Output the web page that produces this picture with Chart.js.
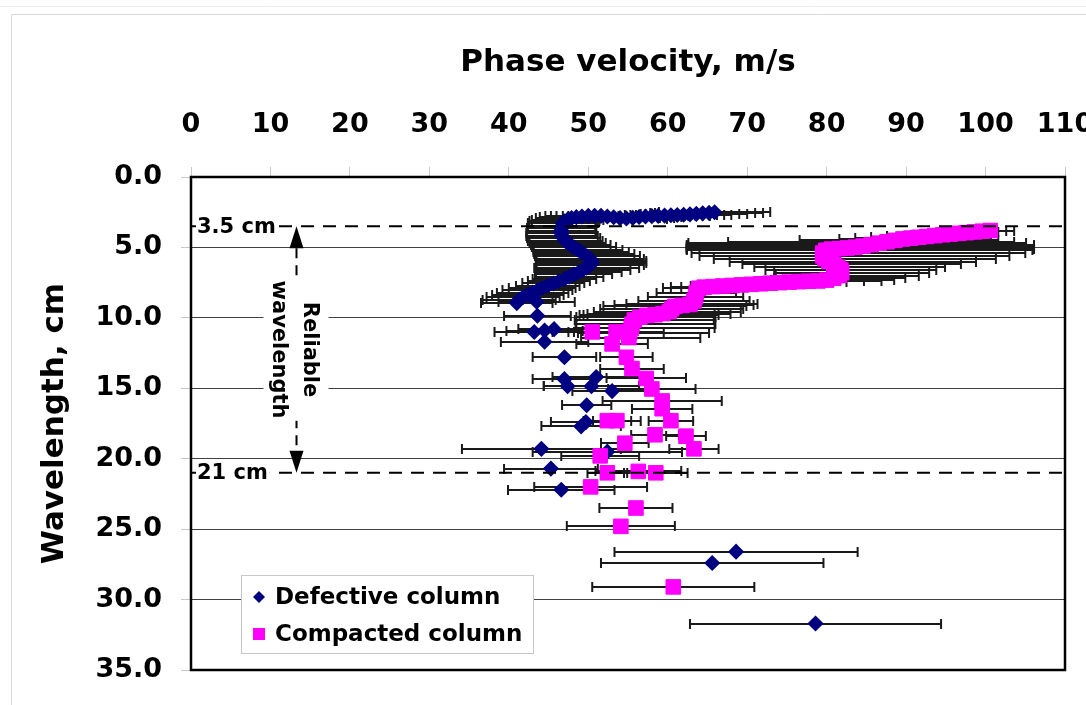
<!DOCTYPE html>
<html>
<head>
<meta charset="utf-8">
<title>Phase velocity vs wavelength</title>
<script src="https://cdn.jsdelivr.net/npm/chart.js@4.4.1/dist/chart.umd.min.js"></script>
<style>
  html, body { margin: 0; padding: 0; background: #fff; }
  #wrap { width: 1086px; height: 705px; }
</style>
</head>
<body>
<div id="wrap"><canvas id="c" width="1086" height="705"></canvas></div>
<script>
// ---- Defective column: wavelength (cm), phase velocity (m/s), error half-width (m/s)
const defectiveWavelength = [
  2.50, 2.55, 2.58, 2.62, 2.65, 2.68, 2.70, 2.72, 2.74, 2.76,
  2.78, 2.80, 2.84, 2.90, 2.95, 2.92, 2.86, 2.80, 2.76, 2.75,
  2.76, 2.80, 2.85, 2.92, 3.02, 3.15, 3.30, 3.48, 3.65, 3.82,
  4.00, 4.18, 4.35, 4.52, 4.68, 4.84, 5.00, 5.16, 5.32, 5.48,
  5.64, 5.80, 5.96, 6.12, 6.28, 6.44, 6.60, 6.76, 6.92, 7.08,
  7.24, 7.40, 7.56, 7.72, 7.88, 8.04, 8.20, 8.36, 8.52, 8.70,
  8.95, 8.85, 9.85, 10.8, 10.9, 11.0, 11.7, 12.8, 14.35, 14.85,
  14.2, 14.85, 15.2, 16.2, 17.4, 17.7, 19.3, 19.5, 20.7, 22.2,
  26.6, 27.4, 31.7
];
const defectiveVelocity = [
  65.9, 65.2, 64.4, 63.6, 62.8, 62.0, 61.2, 60.4, 59.6, 58.8,
  58.0, 57.2, 56.4, 55.6, 54.8, 54.0, 53.2, 52.4, 51.6, 50.8,
  50.0, 49.2, 48.5, 47.9, 47.4, 47.0, 46.8, 46.7, 46.6, 46.6,
  46.6, 46.7, 46.9, 47.1, 47.4, 47.8, 48.2, 48.7, 49.1, 49.5,
  49.9, 50.2, 50.4, 50.4, 50.2, 49.8, 49.3, 48.8, 48.2, 47.6,
  47.0, 46.3, 45.6, 44.9, 44.2, 43.6, 43.0, 42.4, 41.8, 41.3,
  41.0, 43.5, 43.6, 45.7, 44.5, 43.2, 44.5, 47.0, 47.0, 47.4,
  51.0, 50.4, 53.0, 49.8, 49.7, 49.1, 44.1, 52.4, 45.3, 46.6,
  68.6, 65.6, 78.6
];
const defectiveError = [
  7.0, 6.8, 6.6, 6.4, 6.2, 6.0, 5.9, 5.8, 5.7, 5.6,
  5.5, 5.4, 5.3, 5.2, 5.1, 5.0, 5.0, 4.9, 4.8, 4.8,
  4.7, 4.6, 4.6, 4.5, 4.5, 4.4, 4.4, 4.3, 4.3, 4.3,
  4.4, 4.5, 4.6, 4.7, 4.8, 5.0, 5.3, 5.6, 6.0, 6.3,
  6.6, 6.8, 6.9, 6.9, 6.8, 6.6, 6.0, 5.4, 4.8, 4.3,
  4.0, 3.9, 3.9, 4.0, 4.2, 4.4, 4.5, 4.5, 4.6, 4.6,
  4.5, 4.8, 4.2, 4.5, 4.8, 5.0, 5.5, 4.0, 4.0, 3.0,
  5.5, 6.0, 5.0, 3.1, 4.4, 5.0, 10.0, 9.4, 5.9, 6.7,
  15.3, 14.0, 15.8
];

// ---- Compacted column: wavelength (cm), phase velocity (m/s), lower / upper error (m/s)
const compactedWavelength = [
  3.80, 3.85, 3.90, 3.95, 4.00, 4.05, 4.10, 4.16, 4.22, 4.28,
  4.34, 4.40, 4.50, 4.60, 4.70, 4.80, 4.90, 4.98, 5.04, 5.08,
  5.12, 5.20, 5.40, 5.60, 5.80, 6.00, 6.20, 6.40, 6.60, 6.80,
  7.00, 7.18, 7.32, 7.38, 7.40, 7.43, 7.46, 7.50, 7.54, 7.58,
  7.62, 7.66, 7.70, 7.74, 7.78, 7.82, 7.90, 8.20, 8.50, 8.80,
  9.05, 9.12, 9.18, 9.35, 9.55, 9.70, 9.78, 9.82, 9.95, 10.15,
  10.45, 10.75, 11.05, 11.40,
  11.0, 11.0, 11.85, 12.8, 13.6, 14.3, 15.05, 15.9, 16.45, 17.3,
  17.3, 17.3, 18.3, 18.4, 18.9, 19.3, 19.8, 21.0, 20.9, 21.0,
  22.0, 23.5, 24.8, 29.1
];
const compactedVelocity = [
  100.6, 99.6, 98.6, 97.6, 96.6, 95.6, 94.6, 93.6, 92.6, 91.6,
  90.6, 89.6, 88.6, 87.6, 86.6, 85.6, 84.6, 83.6, 82.6, 81.6,
  80.6, 79.9, 79.5, 79.5, 79.8, 80.3, 80.9, 81.4, 81.8, 81.9,
  81.6, 80.9, 80.0, 78.9, 77.7, 76.5, 75.3, 74.1, 72.9, 71.7,
  70.5, 69.3, 68.1, 66.9, 65.7, 64.6, 63.9, 63.6, 63.5, 63.3,
  62.8, 61.8, 60.9, 60.5, 60.2, 59.4, 58.4, 57.4, 56.5, 55.8,
  55.5, 55.4, 55.2, 55.1,
  50.5, 53.5, 53.0, 54.8, 55.5, 57.3, 58.0, 59.3, 59.3, 52.4,
  53.6, 60.4, 58.4, 62.3, 54.6, 63.3, 51.5, 52.4, 56.3, 58.5,
  50.3, 56.0, 54.1, 60.7
];
const compactedErrLow = [
  3.0, 3.0, 3.0, 3.0, 3.0, 3.5, 4.0, 4.0, 5.0, 6.0,
  7.0, 8.0, 12.0, 20.0, 24.0, 23.2, 22.2, 21.2, 20.2, 19.2,
  18.2, 17.5, 16.5, 15.5, 14.0, 12.5, 11.5, 10.5, 9.5, 8.5,
  8.0, 7.5, 7.0, 6.5, 6.0, 5.5, 5.0, 4.8, 4.6, 4.4,
  4.2, 4.0, 4.0, 4.0, 4.0, 4.2, 4.5, 5.0, 6.0, 7.0,
  8.0, 8.5, 9.0, 9.0, 9.5, 9.5, 9.0, 8.5, 8.0, 7.5,
  7.0, 7.0, 6.5, 6.0,
  5.0, 6.0, 4.5, 3.3, 4.0, 5.0, 5.5, 7.5, 3.8, 3.0,
  3.0, 2.8, 3.0, 2.5, 3.0, 3.1, 4.9, 2.5, 5.4, 4.0,
  7.1, 4.6, 6.8, 10.2
];
const compactedErrHigh = [
  3.0, 3.0, 3.0, 3.5, 4.0, 5.0, 6.0, 7.0, 8.0, 9.0,
  10.0, 11.0, 13.0, 16.0, 18.5, 20.5, 21.5, 22.5, 23.5, 24.5,
  25.5, 26.0, 25.5, 23.5, 21.5, 18.5, 16.0, 13.5, 12.0, 11.0,
  10.0, 9.0, 8.5, 8.0, 7.0, 6.0, 5.0, 4.8, 4.6, 4.4,
  4.2, 4.0, 4.0, 4.0, 4.0, 4.2, 4.5, 5.0, 6.0, 7.0,
  8.5, 9.0, 9.0, 9.0, 9.0, 8.5, 8.0, 8.5, 9.5, 10.0,
  10.5, 10.5, 10.0, 9.0,
  5.0, 6.0, 4.5, 3.3, 4.0, 5.0, 5.5, 7.5, 3.8, 3.0,
  3.0, 2.8, 3.0, 2.5, 3.0, 3.1, 4.9, 2.5, 5.4, 4.0,
  7.1, 4.6, 6.8, 10.2
];

// ---- Axis ticks
const velocityTicks = [0, 10, 20, 30, 40, 50, 60, 70, 80, 90, 100, 110];
const velocityTickLabels = ['0', '10', '20', '30', '40', '50', '60', '70', '80', '90', '100', '110'];
const wavelengthTicks = [0, 5, 10, 15, 20, 25, 30, 35];
const wavelengthTickLabels = ['0.0', '5.0', '10.0', '15.0', '20.0', '25.0', '30.0', '35.0'];

// ---- Reliable wavelength range
const reliableLimits = [3.5, 21];
const reliableLimitLabels = ['3.5 cm', '21 cm'];
const reliableNote = ['Reliable', 'wavelength'];

const FONT = '"DejaVu Sans", "Liberation Sans", sans-serif';
Chart.defaults.font.family = FONT;

const defectivePoints = defectiveWavelength.map((w, i) => ({
  x: defectiveVelocity[i], y: w, lo: defectiveError[i], hi: defectiveError[i]
}));
const compactedPoints = compactedWavelength.map((w, i) => ({
  x: compactedVelocity[i], y: w, lo: compactedErrLow[i], hi: compactedErrHigh[i]
}));

// light frame round the figure
const pageFrame = {
  id: 'pageFrame',
  beforeDraw(chart) {
    const { ctx, width, height } = chart;
    ctx.save();
    ctx.fillStyle = '#fff';
    ctx.fillRect(0, 0, width, height);
    ctx.lineWidth = 1;
    ctx.strokeStyle = '#ececec';
    ctx.beginPath(); ctx.moveTo(0, 6.5); ctx.lineTo(width, 6.5); ctx.stroke();
    ctx.strokeStyle = '#dadada';
    ctx.beginPath(); ctx.moveTo(width, 14.5); ctx.lineTo(11.5, 14.5); ctx.lineTo(11.5, height); ctx.stroke();
    ctx.restore();
  }
};

// horizontal error bars with end caps, drawn under the markers
const errorBars = {
  id: 'errorBars',
  beforeDatasetsDraw(chart) {
    const { ctx, chartArea: a, scales: { x, y } } = chart;
    ctx.save();
    ctx.beginPath();
    ctx.rect(a.left, a.top, a.right - a.left, a.bottom - a.top);
    ctx.clip();
    ctx.strokeStyle = '#1a1a1a';
    ctx.lineWidth = 2;
    chart.data.datasets.forEach(ds => {
      ds.data.forEach(p => {
        const py = Math.round(y.getPixelForValue(p.y));
        const x0 = x.getPixelForValue(p.x - p.lo);
        const x1 = x.getPixelForValue(p.x + p.hi);
        ctx.beginPath();
        ctx.moveTo(x0, py); ctx.lineTo(x1, py);
        ctx.moveTo(x0, py - 5); ctx.lineTo(x0, py + 5);
        ctx.moveTo(x1, py - 5); ctx.lineTo(x1, py + 5);
        ctx.stroke();
      });
    });
    ctx.restore();
  }
};

// dashed limits, their labels and the double arrow with its caption
const bracketVelocity = 13.2;
const reliableBand = {
  id: 'reliableBand',
  afterDatasetsDraw(chart) {
    const { ctx, chartArea: a, scales: { x, y } } = chart;
    const [yTop, yBot] = reliableLimits.map(v => y.getPixelForValue(v));
    ctx.save();
    ctx.strokeStyle = '#000';
    ctx.lineWidth = 2;
    ctx.setLineDash([13, 9]);
    [yTop, yBot].forEach(py => {
      ctx.beginPath(); ctx.moveTo(a.left, py); ctx.lineTo(a.right, py); ctx.stroke();
    });
    ctx.setLineDash([]);

    ctx.font = 'bold 21px ' + FONT;
    ctx.textAlign = 'left';
    ctx.textBaseline = 'middle';
    [yTop, yBot].forEach((py, i) => {
      const t = reliableLimitLabels[i];
      const w = ctx.measureText(t).width;
      ctx.fillStyle = '#fff';
      ctx.fillRect(a.left + 5, py - 13, w + 3, 26);
      ctx.fillStyle = '#000';
      ctx.fillText(t, a.left + 6, py + 1);
    });

    const bx = Math.round(x.getPixelForValue(bracketVelocity)) + 0.5;
    ctx.setLineDash([10, 7]);
    ctx.beginPath(); ctx.moveTo(bx, yTop + 22); ctx.lineTo(bx, yBot - 22); ctx.stroke();
    ctx.setLineDash([]);

    ctx.fillStyle = '#fff';
    ctx.fillRect(bx - 33, yTop + 52, 65, (yBot - 52) - (yTop + 52));

    ctx.fillStyle = '#000';
    ctx.beginPath(); ctx.moveTo(bx, yTop); ctx.lineTo(bx + 7, yTop + 22); ctx.lineTo(bx - 7, yTop + 22); ctx.closePath(); ctx.fill();
    ctx.beginPath(); ctx.moveTo(bx, yBot); ctx.lineTo(bx + 7, yBot - 22); ctx.lineTo(bx - 7, yBot - 22); ctx.closePath(); ctx.fill();

    const cy = (yTop + yBot) / 2;
    ctx.textAlign = 'center';
    ctx.textBaseline = 'alphabetic';
    [[reliableNote[0], 7], [reliableNote[1], -24]].forEach(([t, dx]) => {
      ctx.save();
      ctx.translate(bx + dx, cy);
      ctx.rotate(Math.PI / 2);
      ctx.fillText(t, 0, 0);
      ctx.restore();
    });
    ctx.restore();
  }
};

// boxed legend inside the lower left corner of the plot
const legendBox = {
  id: 'legendBox',
  afterDraw(chart) {
    const { ctx, chartArea: a } = chart;
    const left = a.left + 50, top = a.bottom - 95;
    ctx.save();
    ctx.fillStyle = '#fff';
    ctx.fillRect(left, top, 292, 78);
    ctx.strokeStyle = '#c8c8c8';
    ctx.lineWidth = 1;
    ctx.strokeRect(left + 0.5, top + 0.5, 292, 78);
    const rows = [22, 59];
    chart.data.datasets.forEach((ds, i) => {
      const cy = top + rows[i], cx = left + 18;
      ctx.fillStyle = ds.backgroundColor;
      ctx.beginPath();
      if (ds.pointStyle === 'rectRot') {
        ctx.moveTo(cx, cy - 6); ctx.lineTo(cx + 6, cy); ctx.lineTo(cx, cy + 6); ctx.lineTo(cx - 6, cy);
        ctx.closePath();
      } else {
        ctx.rect(cx - 6, cy - 6, 12, 12);
      }
      ctx.fill();
      ctx.fillStyle = '#000';
      ctx.font = 'bold 23px ' + FONT;
      ctx.textAlign = 'left';
      ctx.textBaseline = 'middle';
      ctx.fillText(ds.label, left + 34, cy + 1);
    });
    ctx.restore();
  }
};

// heavy border round the plotting area
const plotFrame = {
  id: 'plotFrame',
  afterDraw(chart) {
    const { ctx, chartArea: a } = chart;
    ctx.save();
    ctx.strokeStyle = '#000';
    ctx.lineWidth = 2.5;
    ctx.strokeRect(a.left, a.top, a.right - a.left, a.bottom - a.top);
    ctx.restore();
  }
};

new Chart(document.getElementById('c'), {
  type: 'scatter',
  data: {
    datasets: [
      {
        label: 'Defective column',
        data: defectivePoints,
        pointStyle: 'rectRot',
        pointRadius: 7,
        backgroundColor: '#000080',
        borderColor: '#000080',
        borderWidth: 1.5,
        order: 1
      },
      {
        label: 'Compacted column',
        data: compactedPoints,
        pointStyle: 'rect',
        pointRadius: 10.3,
        backgroundColor: '#ff00ff',
        borderColor: '#ff00ff',
        borderWidth: 1,
        order: 0
      }
    ]
  },
  options: {
    responsive: false,
    animation: false,
    devicePixelRatio: 1,
    events: [],
    layout: { padding: { left: 0, top: 0, right: 21, bottom: 35 } },
    plugins: { legend: { display: false }, tooltip: { enabled: false } },
    scales: {
      x: {
        type: 'linear',
        position: 'top',
        min: 0,
        max: 110,
        afterBuildTicks: s => { s.ticks = velocityTicks.map(v => ({ value: v })); },
        afterFit: s => { s.height = 177; s.paddingLeft = 0; s.paddingRight = 0; },
        grid: { drawOnChartArea: false, drawTicks: true, tickLength: 10, tickColor: '#c8c8c8', lineWidth: 1 },
        border: { display: false },
        ticks: {
          color: '#000',
          font: { size: 27, weight: 'bold', lineHeight: 1.2 },
          padding: 26,
          maxRotation: 0,
          autoSkip: false,
          callback: (v, i) => velocityTickLabels[i]
        },
        title: {
          display: true,
          text: 'Phase velocity, m/s',
          color: '#000',
          font: { size: 31, weight: 'bold', lineHeight: 1.2 },
          padding: { top: 44, bottom: 0 }
        }
      },
      y: {
        type: 'linear',
        position: 'left',
        reverse: true,
        min: 0,
        max: 35,
        afterBuildTicks: s => { s.ticks = wavelengthTicks.map(v => ({ value: v })); },
        afterFit: s => { s.width = 191; s.paddingTop = 0; s.paddingBottom = 0; },
        grid: { color: '#404040', lineWidth: 1, drawTicks: true, tickLength: 10, tickColor: '#c8c8c8' },
        border: { display: false },
        ticks: {
          color: '#000',
          font: { size: 27, weight: 'bold', lineHeight: 1.2 },
          padding: 19,
          autoSkip: false,
          callback: (v, i) => wavelengthTickLabels[i]
        },
        title: {
          display: true,
          text: 'Wavelength, cm',
          color: '#000',
          font: { size: 31, weight: 'bold', lineHeight: 1.2 },
          padding: { top: 36, bottom: 0 }
        }
      }
    }
  },
  plugins: [pageFrame, errorBars, reliableBand, legendBox, plotFrame]
});
</script>
</body>
</html>
